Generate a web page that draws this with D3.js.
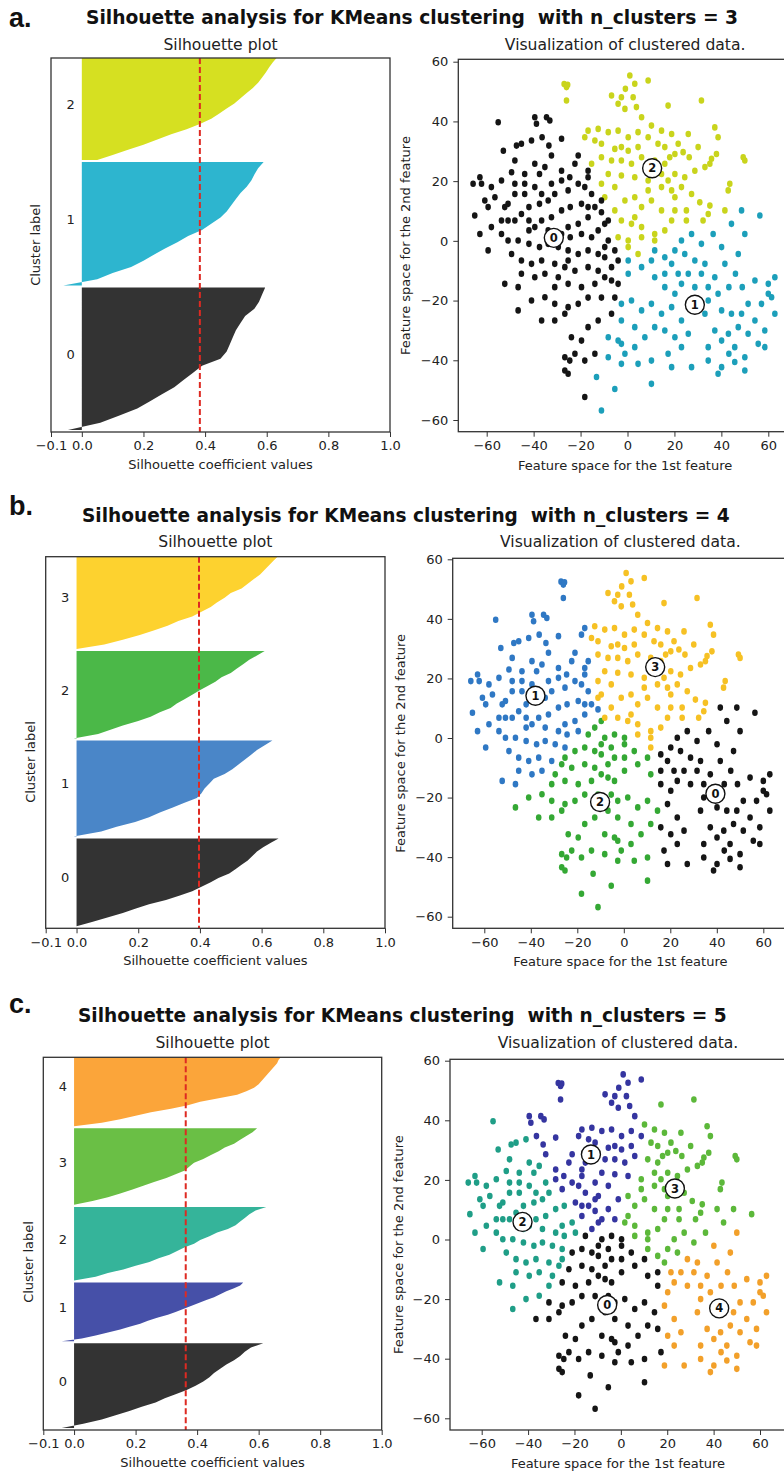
<!DOCTYPE html>
<html>
<head>
<meta charset="utf-8">
<script src="https://cdn.jsdelivr.net/npm/d3@7"></script>
<style>
  body { margin: 0; background: #fff; }
  text { font-family: "DejaVu Sans", sans-serif; fill: #222; }
</style>
</head>
<body>
<svg id="fig" width="784" height="1475"></svg>
<script>
// ---- data ----
var silTicks = [-0.1, 0.0, 0.2, 0.4, 0.6, 0.8, 1.0]
var featTicks = [-60, -40, -20, 0, 20, 40, 60]
var nClusters = [3, 4, 5]
var silAvg = [0.383, 0.397, 0.363]

// samples per cluster (cluster 0 first, stacked bottom to top)
var clusterSizes = [
    [282, 244, 204],
    [175, 191, 174, 186],
    [168, 117, 146, 152, 139]
]

// sorted silhouette values of each cluster, read at 21 evenly spaced ranks
var silValuesA = [
    [-0.045, 0.06, 0.12, 0.18, 0.22, 0.26, 0.30, 0.33, 0.36, 0.39, 0.45, 0.47, 0.48, 0.49, 0.50, 0.515, 0.53, 0.56, 0.575, 0.585, 0.595],
    [-0.06, 0.05, 0.10, 0.16, 0.20, 0.235, 0.27, 0.31, 0.345, 0.39, 0.42, 0.45, 0.47, 0.485, 0.50, 0.515, 0.535, 0.55, 0.56, 0.572, 0.59],
    [0.05, 0.10, 0.15, 0.20, 0.245, 0.29, 0.34, 0.383, 0.42, 0.445, 0.47, 0.495, 0.515, 0.535, 0.555, 0.572, 0.585, 0.597, 0.608, 0.62, 0.635]
]
var silValuesB = [
    [0.0, 0.05, 0.10, 0.15, 0.19, 0.235, 0.29, 0.335, 0.375, 0.405, 0.435, 0.46, 0.495, 0.515, 0.535, 0.555, 0.57, 0.585, 0.605, 0.63, 0.655],
    [-0.01, 0.08, 0.13, 0.19, 0.235, 0.27, 0.31, 0.35, 0.39, 0.405, 0.415, 0.43, 0.445, 0.48, 0.505, 0.525, 0.545, 0.565, 0.585, 0.61, 0.635],
    [-0.01, 0.07, 0.11, 0.15, 0.20, 0.24, 0.27, 0.305, 0.325, 0.35, 0.375, 0.398, 0.425, 0.45, 0.47, 0.50, 0.52, 0.54, 0.56, 0.585, 0.61],
    [0.0, 0.09, 0.15, 0.205, 0.25, 0.295, 0.33, 0.375, 0.405, 0.435, 0.455, 0.48, 0.50, 0.535, 0.555, 0.575, 0.595, 0.61, 0.625, 0.64, 0.655]
]
var silValuesC = [
    [-0.04, 0.03, 0.09, 0.135, 0.18, 0.22, 0.265, 0.295, 0.33, 0.366, 0.395, 0.42, 0.44, 0.455, 0.475, 0.495, 0.52, 0.54, 0.555, 0.575, 0.615],
    [-0.04, 0.025, 0.07, 0.11, 0.15, 0.18, 0.215, 0.24, 0.27, 0.305, 0.33, 0.355, 0.38, 0.405, 0.43, 0.455, 0.475, 0.495, 0.52, 0.54, 0.55],
    [0.0, 0.07, 0.11, 0.16, 0.20, 0.245, 0.275, 0.31, 0.335, 0.36, 0.39, 0.41, 0.44, 0.465, 0.50, 0.525, 0.54, 0.555, 0.57, 0.59, 0.625],
    [0.0, 0.06, 0.11, 0.15, 0.19, 0.225, 0.26, 0.30, 0.33, 0.36, 0.375, 0.39, 0.42, 0.445, 0.47, 0.49, 0.52, 0.54, 0.56, 0.58, 0.595],
    [0.0, 0.09, 0.15, 0.20, 0.25, 0.315, 0.37, 0.41, 0.47, 0.53, 0.56, 0.585, 0.60, 0.61, 0.62, 0.63, 0.64, 0.65, 0.66, 0.665, 0.675]
]
var silValues = [silValuesA, silValuesB, silValuesC]

// cluster centres in feature space
var centers = [
    [[-31.4, 1.0], [28.7, -21.4], [10.5, 24.3]],
    [[39.4, -18.7], [-38.0, 14.2], [-10.2, -21.5], [13.5, 23.8]],
    [[-5.9, -22.0], [-12.9, 28.5], [-42.4, 5.9], [23.3, 17.1], [42.4, -23.1]]
]

var fillColors = [
    ['#333333', '#2db5cf', '#d6e021'],
    ['#333333', '#4a86c8', '#4bb848', '#fdd22f'],
    ['#333333', '#4650a8', '#35b49a', '#6abf45', '#fba53a']
]
var dotColors = [
    ['#151515', '#1c9fba', '#c9d41c'],
    ['#151515', '#2f78c4', '#34a834', '#f6c124'],
    ['#151515', '#3535a0', '#1f9e87', '#5cb83a', '#f2a02a']
]

// the samples (same data in all three rows), feature 1 / feature 2
var points = [
    [-27,52.5],[-26,51.5],[-25.5,52.3],[-26,47],[1,55.4],[3.1,52.6],[-0.9,50.9],[8.8,53.7],[2.4,48.1],[-2.6,48.1],
    [-6.8,48.7],[-4,45.9],[-1.1,44.2],[3.8,44.8],[6,41.4],[17.3,45.3],[31.5,47],[10.2,38.6],[14.5,36.9],[18.8,35.8],
    [21.6,32.5],[23.7,29.7],[26.3,28],[20.2,29.1],[18,28],[15.9,31.4],[13,32.5],[8.8,34.7],[4.5,36.4],[0.3,34.7],
    [-4,36.9],[-8.2,36.4],[-12.5,37.5],[-16.8,36.9],[-18.2,34.7],[-11.1,32.5],[-5.4,30.8],[0.3,30.2],[4.5,31.4],[6,28],
    [1.7,25.8],[-2.6,26.9],[-6.8,26.9],[-11.1,28],[-15.3,25.8],[-8.2,22.4],[-2.6,21.9],[3.1,21.3],[8.8,20.2],[14.5,22.4],
    [20.2,22.4],[24.4,21.3],[28.7,23.5],[33,24.7],[35.8,27.5],[37.9,29.1],[38.6,34.7],[37.2,38],[35.1,25.8],[49.3,28],
    [50,26.9],[43.6,19.1],[42.9,16.9],[35.1,11.8],[34.4,9],[30.8,12.9],[25.1,10.2],[25.1,6.8],[20.2,10.2],[18.8,6.8],
    [14.5,10.2],[10.2,13.5],[6,11.3],[3.1,14.6],[-1.1,13.5],[-5.4,18],[-11.1,19.1],[-9.7,14.6],[-5.4,10.2],[-2.6,6.8],
    [1.7,5.7],[6,4.6],[11.6,2.3],[15.9,3.5],[11.6,0.1],[6,1.2],[0.3,0.1],[0.3,-2.1],[3.1,7.9],[14.5,18],
    [18.8,16.9],[8.8,16.9],[11.6,26.9],[15.9,25.8],[17.3,20.2],[23,18],[27.3,15.7],[20.2,14.6],[-2.6,31.4],[-13.9,33.6],
    [30.1,31.4],[25.9,35.8],
    [32.2,6.8],[41.5,10.2],[48.6,10.2],[56.4,8.5],[44.3,5.7],[50,2.3],[47.2,-4.4],[40.1,-2.1],[36.5,2.3],[31.5,-1],
    [27.3,2.3],[23,0.1],[20.2,-3.2],[24.4,-4.4],[28.7,-6.6],[33,-7.7],[37.2,-12.2],[41.5,-7.7],[46,-11],[43.2,-15.5],
    [48.9,-15.5],[54.3,-13.3],[60,-14.4],[62.8,-12.2],[61.4,-18.9],[62.8,-24.4],[60,-17.7],[57.1,-21.1],[51.4,-21.1],[48.6,-24.4],
    [47.2,-28.9],[51.4,-31.1],[55.7,-34.5],[58.5,-35.6],[58.5,-30],[40.1,-33.4],[43,-31.1],[45.7,-35.6],[50,-39],[50,-43.4],
    [45.7,-40.6],[40.1,-42.3],[38.6,-44.5],[34.4,-40.1],[34.4,-35.6],[37.2,-30],[33,-24.4],[34.4,-20],[28.7,-15.5],[23,-14.4],
    [20.2,-17.7],[15.9,-15.5],[15.9,-11],[11.6,-12.2],[10.2,-6.6],[6,-8.8],[4.5,-4.4],[0.3,-11],[-4,-14.4],[-5.4,-19],
    [-2.6,-21.1],[1.7,-20],[6,-23.3],[10.2,-21.1],[14.5,-24.4],[18.8,-22.2],[23,-26.7],[25.9,-31.1],[20.2,-32.3],[15.9,-30],
    [11.6,-28.9],[7.4,-32.3],[3.1,-28.9],[-2.6,-26.7],[-6.8,-24.4],[-8.2,-32.3],[-2.6,-34.5],[3.1,-35.6],[10.2,-40.1],[17.3,-37.8],
    [23,-35.6],[27.3,-42.3],[18.8,-42.3],[4.5,-41.2],[-2.6,-41.2],[-8.2,-39],[-13.2,-45.6],[-5.4,-49.6],[10.2,-47.9],[-11.1,-56.8],
    [-4,-33.4],[-1.1,-37.8],[0.3,-6.6],[11.6,-3.2],[15.9,-5.5],[18.8,-7.7],[21.6,-11],[25.9,-11],[31.5,-11],[34.4,-15.5],
    [38.6,-17.7],[40.1,-23.3],[44.3,-24.4],[54.3,-26.7],[43.2,-37.8],
    [-55.1,39.7],[-38.8,39.2],[-34.5,41.4],[-33.1,40.3],[-39.5,41.4],[-28.1,34.2],[-33.5,31.9],[-36.4,34.7],[-40.9,33.6],[-45.2,32.5],
    [-47.3,31.9],[-52.9,30.2],[-32.4,28.6],[-21,28.6],[-16.8,23.5],[-39.5,25.8],[-43.8,22.4],[-49.4,23],[-53.7,20.2],[-58,18],
    [-62.2,19.1],[-65.8,19.1],[-62.9,21.3],[-60.8,13.5],[-56.5,14.6],[-59.4,11.3],[-65.1,8.5],[-62.9,2.3],[-59.4,-3.2],[-58,4.6],
    [-53.7,2.3],[-50.9,6.8],[-50.9,12.4],[-48,15.7],[-48,19.1],[-43.8,19.1],[-43.8,15.7],[-39.5,18],[-36.6,15.7],[-32.4,19.1],
    [-28.1,20.2],[-28.1,23.5],[-24.6,21.3],[-21,19.1],[-18.2,18],[-15.3,15.7],[-25.3,16.9],[-31,15.7],[-33.8,13.5],[-37.5,12.4],
    [-42,11.3],[-45.2,9],[-48,6.8],[-42,6.8],[-39.5,4.6],[-36.6,6.8],[-32.4,7.9],[-28.1,10.2],[-24.4,11.3],[-19.6,12.4],
    [-16.8,11.3],[-13.9,11.3],[-11.1,9.6],[-16.8,7.9],[-21,5.7],[-25.3,4.6],[-28.1,2.3],[-24.4,1.2],[-19.6,2.3],[-15.3,1.2],
    [-12.5,3.5],[-9.7,5.7],[-8.2,0.1],[-9.7,-2.1],[-5.4,-3.2],[-4,-6.6],[-6.8,-8.8],[-9.7,-5.5],[-12.5,-4.4],[-16.8,-3.2],
    [-21,-4.4],[-25.3,-3.2],[-29.5,-2.1],[-33.8,-1],[-37.5,-2.1],[-42,-1],[-46.6,0.1],[-50.9,0.1],[-49.4,-4.4],[-45.2,-6.6],
    [-40.9,-7.7],[-36.6,-6.6],[-31,-7.7],[-26.7,-8.8],[-22.4,-10],[-16.8,-8.8],[-12.5,-10],[-9.7,-12.2],[-6.8,-13.3],[-13.9,-14.4],
    [-19.6,-15.5],[-25.3,-14.4],[-29.5,-12.2],[-35.2,-11],[-39.5,-12.2],[-45.2,-11],[-52.3,-14.4],[-46.6,-15.5],[-40.9,-20],[-35.2,-18.9],
    [-31,-21.1],[-25.3,-22.2],[-21,-21.1],[-16.8,-19],[-11.1,-19],[-46.6,-23.3],[-36.6,-26.7],[-31,-26.7],[-26.7,-24.4],[-16.8,-28.9],
    [-12.5,-26.7],[-23.9,-32.3],[-19.6,-33.4],[-26.7,-39],[-24.6,-40.1],[-18.2,-40.1],[-13.9,-37.8],[-26.7,-43.4],[-25.3,-44.5],[-18.2,-52.3],
    [-22.4,-37.8],[-31,-15.5],[-25.3,-6.6],[-33.8,3.5],[-42,3.5],[-53.7,6.8],[-52.3,11.3],[-37.5,22.4],[-22.4,25.8],[-16.8,21.3],
    [-35.2,24.7],[-48,26.9],[-11.1,13.5],[-8.2,6.8],[-4,1.2]
]

// ---- layout of the three rows (pixels) ----
var rows = [
    {tag: 'a.', tagY: 27, titleX: 86, titleW: 652, titleY: 24, subY: 50,
     sil: {x0: 51, x1: 390, y0: 58, y1: 432, labX: 39.7, labY: 245},
     sc: {x0: 458.3, x1: 792, y0: 59.3, y1: 431.7, xa: 486.7, xb: 768.3, ya: 420, yb: 61.7, labX: 409.7}},
    {tag: 'b.', tagY: 515, titleX: 82, titleW: 648, titleY: 522, subY: 547,
     sil: {x0: 45.7, x1: 385, y0: 556.7, y1: 928.3, labX: 34.7, labY: 762},
     sc: {x0: 452.7, x1: 788, y0: 558.3, y1: 928.3, xa: 484.3, xb: 763.3, ya: 916.7, yb: 559.3, labX: 404.7}},
    {tag: 'c.', tagY: 1013, titleX: 78, titleW: 649, titleY: 1022, subY: 1048,
     sil: {x0: 43.3, x1: 381.7, y0: 1057.3, y1: 1430, labX: 32.7, labY: 1262},
     sc: {x0: 450, x1: 786, y0: 1059.3, y1: 1430, xa: 481.7, xb: 760, ya: 1418.3, yb: 1060.7, labX: 402.7}}
]
var silTop = 740, silGap = 4
var fs = 13

var svg = d3.select('#fig')
var defs = svg.append('defs')

function frame(g, x0, y0, x1, y1) {
    g.append('rect')
        .attr('x', x0).attr('y', y0)
        .attr('width', x1 - x0).attr('height', y1 - y0)
        .attr('fill', 'none')
        .attr('stroke', '#333')
        .attr('stroke-width', 1.3)
}

function nearest(p, cs) {
    var best = 0, bd = Infinity
    cs.forEach(function (c, i) {
        var d = (p[0] - c[0]) * (p[0] - c[0]) + (p[1] - c[1]) * (p[1] - c[1])
        if (d < bd) { bd = d; best = i }
    })
    return best
}

rows.forEach(function (R, r) {
    var g = svg.append('g')

    // panel tag + suptitle
    g.append('text')
        .attr('x', 9).attr('y', R.tagY)
        .style('font-family', '"Liberation Sans", Arial, sans-serif')
        .style('font-weight', 'bold')
        .style('font-size', '27px')
        .style('fill', '#111')
        .text(R.tag)

    var title = g.append('text')
        .attr('x', R.titleX).attr('y', R.titleY)
        .style('font-weight', 'bold')
        .style('font-size', '18px')
        .style('white-space', 'pre')
        .style('fill', '#111')
        .text('Silhouette analysis for KMeans clustering  with n_clusters = ' + nClusters[r])
    var w = title.node().getComputedTextLength()
    title.style('font-size', (18 * R.titleW / w).toFixed(2) + 'px')

    // ---------- silhouette plot ----------
    var S = R.sil
    var x = d3.scaleLinear().domain([-0.1, 1.0]).range([S.x0, S.x1])
    var y = d3.scaleLinear().domain([0, silTop]).range([S.y1, S.y0])

    defs.append('clipPath').attr('id', 'silclip' + r)
        .append('rect').attr('x', S.x0).attr('y', S.y0)
        .attr('width', S.x1 - S.x0).attr('height', S.y1 - S.y0)

    var sg = g.append('g').attr('clip-path', 'url(#silclip' + r + ')')
    var yLower = silGap
    clusterSizes[r].forEach(function (size, i) {
        var vals = silValues[r][i]
        var rowsPts = vals.map(function (v, j) {
            return {u: yLower + size * j / (vals.length - 1), v: v}
        })
        var area = d3.area()
            .x0(x(0))
            .x1(function (d) { return x(d.v) })
            .y(function (d) { return y(d.u) })
        sg.append('path')
            .attr('d', area(rowsPts))
            .attr('fill', fillColors[r][i])
        g.append('text')
            .attr('x', x(-0.05))
            .attr('y', y(yLower + 0.5 * size))
            .style('font-size', fs + 'px')
            .text(i)
        yLower += size + silGap
    })

    g.append('line')
        .attr('x1', x(silAvg[r])).attr('x2', x(silAvg[r]))
        .attr('y1', S.y0).attr('y2', S.y1)
        .attr('stroke', '#de2a22')
        .attr('stroke-width', 2)
        .attr('stroke-dasharray', '6,3')

    frame(g, S.x0, S.y0, S.x1, S.y1)

    var xAxis = g.append('g')
        .attr('transform', 'translate(0,' + S.y1 + ')')
        .call(d3.axisBottom(x).tickValues(silTicks).tickFormat(d3.format('.1f')).tickSize(5).tickPadding(4))
    xAxis.select('.domain').remove()
    xAxis.selectAll('line').attr('stroke', '#333')
    xAxis.selectAll('text').style('font-size', fs + 'px').style('font-family', '"DejaVu Sans", sans-serif').attr('fill', '#222')

    g.append('text')
        .attr('x', (S.x0 + S.x1) / 2).attr('y', R.subY)
        .attr('text-anchor', 'middle')
        .style('font-size', '15.6px')
        .text('Silhouette plot')
    g.append('text')
        .attr('x', (S.x0 + S.x1) / 2).attr('y', S.y1 + 37)
        .attr('text-anchor', 'middle')
        .style('font-size', fs + 'px')
        .text('Silhouette coefficient values')
    g.append('text')
        .attr('transform', 'translate(' + S.labX + ',' + S.labY + ') rotate(-90)')
        .attr('text-anchor', 'middle')
        .style('font-size', fs + 'px')
        .text('Cluster label')

    // ---------- scatter of clustered data ----------
    var C = R.sc
    var fx = d3.scaleLinear().domain([-60, 60]).range([C.xa, C.xb])
    var fy = d3.scaleLinear().domain([-60, 60]).range([C.ya, C.yb])

    defs.append('clipPath').attr('id', 'scclip' + r)
        .append('rect').attr('x', C.x0).attr('y', C.y0)
        .attr('width', C.x1 - C.x0).attr('height', C.y1 - C.y0)

    var pg = g.append('g').attr('clip-path', 'url(#scclip' + r + ')')
    pg.selectAll('ellipse.pt')
        .data(points)
        .enter()
        .append('ellipse')
        .attr('class', 'pt')
        .attr('cx', function (d) { return fx(d[0]) })
        .attr('cy', function (d) { return fy(d[1]) })
        .attr('rx', 2.8)
        .attr('ry', 3.3)
        .attr('fill', function (d) { return dotColors[r][nearest(d, centers[r])] })

    var cg = pg.selectAll('g.ctr')
        .data(centers[r])
        .enter()
        .append('g')
        .attr('class', 'ctr')
        .attr('transform', function (d) { return 'translate(' + fx(d[0]) + ',' + fy(d[1]) + ')' })
    cg.append('circle')
        .attr('r', 9.5)
        .attr('fill', '#fff')
        .attr('stroke', '#111')
        .attr('stroke-width', 1.4)
    cg.append('text')
        .attr('text-anchor', 'middle')
        .attr('dy', '0.36em')
        .style('font-size', '11.5px')
        .style('font-weight', 'bold')
        .style('fill', '#111')
        .text(function (d, i) { return i })

    frame(g, C.x0, C.y0, C.x1, C.y1)

    var bx = g.append('g')
        .attr('transform', 'translate(0,' + C.y1 + ')')
        .call(d3.axisBottom(fx).tickValues(featTicks).tickFormat(d3.format('d')).tickSize(5).tickPadding(4))
    var ly = g.append('g')
        .attr('transform', 'translate(' + C.x0 + ',0)')
        .call(d3.axisLeft(fy).tickValues(featTicks).tickFormat(d3.format('d')).tickSize(5).tickPadding(5))
    ;[bx, ly].forEach(function (a) {
        a.select('.domain').remove()
        a.selectAll('line').attr('stroke', '#333')
        a.selectAll('text').style('font-size', fs + 'px').style('font-family', '"DejaVu Sans", sans-serif').attr('fill', '#222')
    })

    g.append('text')
        .attr('x', (C.x0 + C.x1) / 2).attr('y', R.subY)
        .attr('text-anchor', 'middle')
        .style('font-size', '15.6px')
        .text('Visualization of clustered data.')
    g.append('text')
        .attr('x', (C.x0 + C.x1) / 2).attr('y', C.y1 + 38)
        .attr('text-anchor', 'middle')
        .style('font-size', fs + 'px')
        .text('Feature space for the 1st feature')
    g.append('text')
        .attr('transform', 'translate(' + C.labX + ',' + (C.y0 + C.y1) / 2 + ') rotate(-90)')
        .attr('text-anchor', 'middle')
        .style('font-size', fs + 'px')
        .text('Feature space for the 2nd feature')
})
</script>
</body>
</html>
